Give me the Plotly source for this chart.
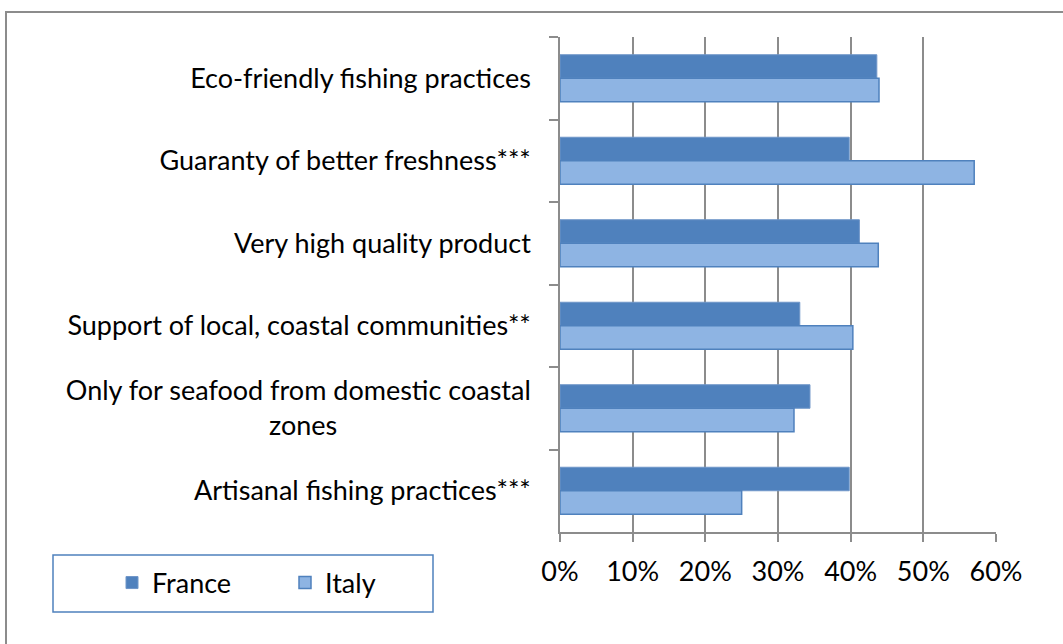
import plotly.graph_objects as go

categories = [
    "Eco-friendly fishing practices",
    "Guaranty of better freshness***",
    "Very high quality product",
    "Support of local, coastal communities**",
    "Only for seafood from domestic coastal<br>zones" + "\u00a0" * 28,
    "Artisanal fishing practices***",
]
france = [0.436, 0.398, 0.412, 0.330, 0.344, 0.398]
italy = [0.439, 0.570, 0.438, 0.403, 0.322, 0.250]
tick_vals = [0, 0.1, 0.2, 0.3, 0.4, 0.5, 0.6]
tick_text = ["0%", "10%", "20%", "30%", "40%", "50%", "60%"]

FONT = "Lato"
GRAY = "#8C8C8C"

fig = go.Figure()
fig.add_trace(go.Bar(
    y=categories, x=france, name="France", orientation="h",
    marker=dict(color="#4F81BD", line=dict(color="#6F96C8", width=1)),
))
fig.add_trace(go.Bar(
    y=categories, x=italy, name="Italy", orientation="h",
    marker=dict(color="#8EB4E3", line=dict(color="#4F81BD", width=1.5)),
))

W, H = 1063, 644
L, R, T, B = 560, 67, 37, 112
pw, ph = W - L - R, H - T - B

def px_x(p):
    return (p - L) / pw

def px_y(p):
    return (H - B - p) / ph

fig.update_layout(
    width=W, height=H,
    margin=dict(l=L, r=R, t=T, b=B),
    paper_bgcolor="white", plot_bgcolor="white",
    barmode="group", bargap=0.43, bargroupgap=0,
    font=dict(family=FONT, size=27, color="#000000"),
    showlegend=True,
    legend=dict(
        orientation="h", x=px_x(112), xanchor="left",
        y=px_y(583), yanchor="middle",
        bgcolor="rgba(0,0,0,0)", borderwidth=0,
        entrywidth=128, traceorder="normal",
        font=dict(family=FONT, size=27),
    ),
    xaxis=dict(
        range=[0, 0.6], tickvals=tick_vals, ticktext=tick_text,
        showgrid=True, gridcolor=GRAY, gridwidth=1.5,
        showline=True, linecolor=GRAY, linewidth=1.5,
        ticks="outside", ticklen=8, tickcolor=GRAY, tickwidth=1.5,
        ticklabelstandoff=7, zeroline=False, fixedrange=True,
    ),
    yaxis=dict(
        autorange="reversed", tickson="boundaries",
        showgrid=False, showline=True, linecolor=GRAY, linewidth=1.5,
        ticks="outside", ticklen=9, tickcolor=GRAY, tickwidth=1.5,
        ticklabelstandoff=22, fixedrange=True,
    ),
    shapes=[
        dict(type="rect", xref="paper", yref="paper",
             x0=px_x(6), x1=px_x(1200), y0=px_y(800), y1=px_y(12),
             line=dict(color=GRAY, width=2), layer="below"),
        dict(type="rect", xref="paper", yref="paper",
             x0=px_x(53), x1=px_x(433), y0=px_y(612), y1=px_y(555),
             line=dict(color="#4F81BD", width=1.5), layer="below"),
    ],
)

fig.write_html(
    "out.html",
    config={"displayModeBar": False},
    post_script="document.body.style.margin='0';document.body.style.overflow='hidden';",
)
